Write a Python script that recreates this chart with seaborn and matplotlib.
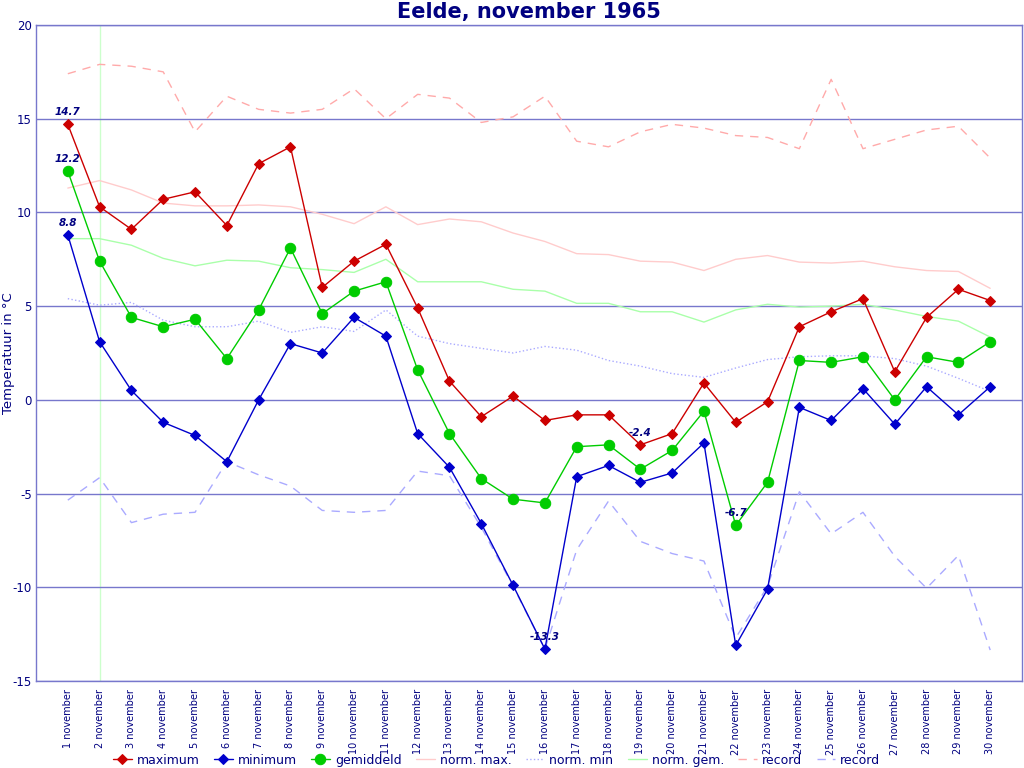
import numpy as np
import pandas as pd
import matplotlib
matplotlib.use("Agg")
import matplotlib.pyplot as plt
import seaborn as sns

# Data
days = list(range(1, 31))
day_labels = [f"{d} november" for d in days]

maximum = [14.7, 10.3, 9.1, 10.7, 11.1, 9.3, 12.6, 13.5, 6.0, 7.4,
           8.3, 4.9, 1.0, -0.9, 0.2, -1.1, -0.8, -0.8, -2.4, -1.8,
           0.9, -1.2, -0.1, 3.9, 4.7, 5.4, 1.5, 4.4, 5.9, 5.3]
minimum = [8.8, 3.1, 0.5, -1.2, -1.9, -3.3, 0.0, 3.0, 2.5, 4.4,
           3.4, -1.8, -3.6, -6.6, -9.9, -13.3, -4.1, -3.5, -4.4, -3.9,
           -2.3, -13.1, -10.1, -0.4, -1.1, 0.6, -1.3, 0.7, -0.8, 0.7]
gemiddeld = [12.2, 7.4, 4.4, 3.9, 4.3, 2.2, 4.8, 8.1, 4.6, 5.8,
             6.3, 1.6, -1.8, -4.2, -5.3, -5.5, -2.5, -2.4, -3.7, -2.7,
             -0.6, -6.7, -4.4, 2.1, 2.0, 2.3, 0.0, 2.3, 2.0, 3.1]
norm_max = [11.3, 11.7, 11.2, 10.5, 10.35, 10.35, 10.4, 10.3, 9.9, 9.4,
            10.3, 9.35, 9.65, 9.5, 8.9, 8.45, 7.8, 7.75, 7.4, 7.35,
            6.9, 7.5, 7.7, 7.35, 7.3, 7.4, 7.1, 6.9, 6.85, 5.95]
norm_min = [5.4, 5.05, 5.2, 4.25, 3.9, 3.9, 4.2, 3.6, 3.9, 3.65,
            4.8, 3.4, 3.0, 2.75, 2.5, 2.85, 2.65, 2.1, 1.8, 1.4,
            1.2, 1.7, 2.15, 2.3, 2.35, 2.35, 2.2, 1.8, 1.15, 0.45]
norm_gem = [8.6, 8.6, 8.25, 7.55, 7.15, 7.45, 7.4, 7.05, 6.95, 6.8,
            7.5, 6.3, 6.3, 6.3, 5.9, 5.8, 5.15, 5.15, 4.7, 4.7,
            4.15, 4.8, 5.1, 4.95, 5.0, 5.1, 4.8, 4.45, 4.2, 3.35]
record_max = [17.4, 17.9, 17.8, 17.5, 14.3, 16.2, 15.5, 15.3, 15.5, 16.6,
              15.0, 16.3, 16.1, 14.8, 15.1, 16.2, 13.8, 13.5, 14.3, 14.7,
              14.5, 14.1, 14.0, 13.4, 17.1, 13.4, 13.9, 14.4, 14.6, 12.9]
record_min = [-5.35, -4.15, -6.55, -6.1, -6.0, -3.3, -4.0, -4.6, -5.9, -6.0,
              -5.9, -3.8, -4.05, -6.8, -9.95, -13.3, -8.0, -5.4, -7.55, -8.2,
              -8.6, -12.7, -9.95, -4.9, -7.15, -6.0, -8.35, -10.05, -8.3, -13.35]

navy = "#000080"
grid_col = "#7777cc"

sns.set_style("white")
plt.rcParams["font.family"] = ["DejaVu Sans"]
plt.rcParams["axes.unicode_minus"] = False

fig = plt.figure(figsize=(10.24, 7.68), dpi=100)
ax = fig.add_axes([36 / 1024, 87 / 768, 986 / 1024, 656 / 768])

# marker on "today"
ax.axvline(2, color="#ccffcc", lw=1, zorder=0)

for y in range(-15, 21, 5):
    ax.axhline(y, color=grid_col, lw=1, zorder=0.5)

# background lines: normals and records
sns.lineplot(x=days, y=norm_max, ax=ax, color="#ffcccc", lw=1, label="norm. max.")
sns.lineplot(x=days, y=norm_min, ax=ax, color="#aaaaff", lw=1, ls=":", label="norm. min")
sns.lineplot(x=days, y=norm_gem, ax=ax, color="#aaffaa", lw=1, label="norm. gem.")
sns.lineplot(x=days, y=record_max, ax=ax, color="#ffaaaa", lw=1, dashes=(6, 5), label="record")
sns.lineplot(x=days, y=record_min, ax=ax, color="#aaaaff", lw=1, dashes=(6, 5), label="record ")

# observed values
sns.lineplot(x=days, y=maximum, ax=ax, color="#cc0000", lw=1, marker="D", ms=5.5,
             mec="#cc0000", label="maximum")
sns.lineplot(x=days, y=minimum, ax=ax, color="#0000cc", lw=1, marker="D", ms=5.5,
             mec="#0000cc", label="minimum")
sns.lineplot(x=days, y=gemiddeld, ax=ax, color="#00cc00", lw=1, marker="o", ms=7.5,
             mec="#00cc00", label="gemiddeld")

# annotate first values and the lowest values
def note(i, vals):
    ax.annotate(f"{vals[i]:.1f}", (days[i], vals[i]), xytext=(0, 5), textcoords="offset points",
                ha="center", va="bottom", fontsize=7.5, fontweight="bold", fontstyle="italic",
                color=navy)

for series in (maximum, minimum, gemiddeld):
    note(0, series)
    note(int(np.argmin(series)), series)

ax.set_xlim(0, 31)
ax.set_ylim(-15, 20)
ax.set_yticks(range(-15, 21, 5))
ax.set_xticks(days)
ax.set_xticklabels(day_labels, rotation=90, fontsize=7, color=navy)
ax.tick_params(axis="y", labelsize=8.5, colors=navy, length=0, pad=3)
ax.tick_params(axis="x", colors=grid_col, labelcolor=navy, length=4, width=1, direction="out", pad=2)
for s in ax.spines.values():
    s.set_color(grid_col)
    s.set_linewidth(1)

ax.set_ylabel("")
ax.set_xlabel("")
fig.text(0.002, 0.54, "Temperatuur in °C", rotation=90, ha="left", va="center",
         fontsize=9.5, color=navy)
fig.suptitle("Eelde, november 1965", x=0.517, y=0.998, fontsize=15, fontweight="bold", color=navy)

handles, labels = ax.get_legend_handles_labels()
order = ["maximum", "minimum", "gemiddeld", "norm. max.", "norm. min", "norm. gem.", "record", "record "]
hmap = dict(zip(labels, handles))
ax.get_legend().remove()
leg = fig.legend([hmap[k] for k in order], [k.strip() for k in order], loc="lower center",
                 bbox_to_anchor=(0.485, -0.013), ncol=8, frameon=False, fontsize=9,
                 handlelength=1.5, columnspacing=1.15, handletextpad=0.4)
for t in leg.get_texts():
    t.set_color(navy)

fig.savefig("out.png", dpi=100)
